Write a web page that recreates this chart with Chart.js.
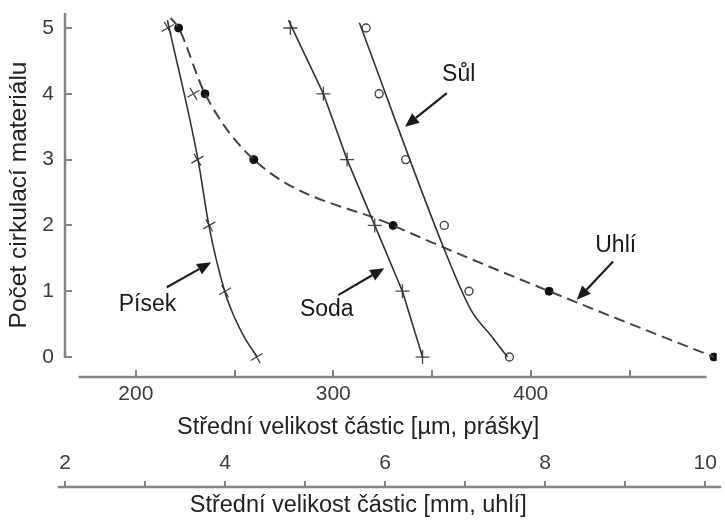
<!DOCTYPE html>
<html>
<head>
<meta charset="utf-8">
<script src="https://cdn.jsdelivr.net/npm/chart.js@4.4.1/dist/chart.umd.min.js"></script>
<style>
  html, body { margin: 0; padding: 0; background: #fff; }
</style>
</head>
<body>
<canvas id="myChart" width="725" height="520"></canvas>
<script>
// tick values
const yTicks = [0, 1, 2, 3, 4, 5];
const umTicks = [200, 250, 300, 350, 400, 450];
const mmTicks = [2, 3, 4, 5, 6, 7, 8, 9, 10];
const mmLabelTicks = [2, 4, 6, 8, 10];

// počet cirkulací for the measured points
const cycles = [5, 4, 3, 2, 1, 0];

// Písek [µm]
const pisekPoints = [216.2, 229.2, 231.2, 237.2, 245.2, 261.2];
const pisekCurveX = [216, 231.5, 237, 245, 250, 255, 261.5];
const pisekCurveY = [5.12, 3, 2, 1, 0.6, 0.3, 0];

// Soda [µm]
const sodaPoints = [278.3, 295, 307, 321, 335, 345.2];
const sodaCurveX = [277.3, 295, 307, 321, 335, 345.2];
const sodaCurveY = [5.12, 4, 3, 2, 1, 0];

// Sůl [µm]
const sulPoints = [316.6, 323.2, 336.7, 356.2, 368.7, 389.2];
const sulCurveX = [313.2, 356.7, 370, 380, 388.2];
const sulCurveY = [5.08, 1.6, 0.7, 0.32, 0];

// Uhlí [mm]
const uhliPoints = [3.42, 3.75, 4.36, 6.1, 8.05, 10.11];
const uhliCurveX = [3.32, 3.42, 3.75, 4.36, 6.1, 8.05, 10.11];
const uhliCurveY = [5.15, 5, 4, 3, 2, 1, 0];

// popisky se šipkami (µm / počet)
const noteTexts = ['Písek', 'Soda', 'Sůl', 'Uhlí'];
const noteX = [205.9, 296.7, 363.5, 443];
const noteY = [0.7, 0.62, 4.2, 1.6];
const arrowX1 = [215.7, 302.5, 357.5, 441.7];
const arrowY1 = [1.06, 0.94, 4.01, 1.45];
const arrowX2 = [238.2, 325.8, 336.3, 423.3];
const arrowY2 = [1.44, 1.35, 3.5, 0.87];

// axis line extents
const umLine = [171, 489];
const mmLine = [1.91, 10.2];

const axisColor = '#858585';
const tickColor = '#3c3c3c';
const titleColor = '#222';
const lineColor = '#333';
const titlePad = '          ';

Chart.defaults.font.family = "'Liberation Sans', Arial, sans-serif";

function xy(xs, ys) {
    return xs.map((x, i) => ({ x: x, y: ys[i] }));
}

function fitBox(w, h) {
    return function (scale) {
        if (w) scale.width = w;
        if (h) scale.height = h;
        scale.paddingLeft = 0;
        scale.paddingRight = 0;
        scale.paddingTop = 0;
        scale.paddingBottom = 0;
    };
}

function setTicks(values) {
    return function (scale) {
        scale.ticks = values.map(v => ({ value: v }));
    };
}

const axisLines = {
    id: 'axisLines',
    beforeDatasetsDraw(chart) {
        const ctx = chart.ctx;
        const s = chart.scales;
        ctx.save();
        ctx.strokeStyle = axisColor;
        ctx.lineWidth = 2.5;
        ctx.beginPath();
        ctx.moveTo(s.y.right, s.y.getPixelForValue(0) + 1);
        ctx.lineTo(s.y.right, chart.chartArea.top);
        ctx.moveTo(s.x.getPixelForValue(umLine[0]), s.x.top);
        ctx.lineTo(s.x.getPixelForValue(umLine[1]), s.x.top);
        ctx.moveTo(s.x3.getPixelForValue(mmLine[0]), s.x3.top);
        ctx.lineTo(s.x3.getPixelForValue(mmLine[1]), s.x3.top);
        ctx.stroke();
        ctx.restore();
    }
};

const notes = {
    id: 'notes',
    afterDatasetsDraw(chart) {
        const ctx = chart.ctx;
        const sx = chart.scales.x;
        const sy = chart.scales.y;
        ctx.save();
        ctx.fillStyle = '#1a1a1a';
        ctx.strokeStyle = '#1e1e1e';
        ctx.lineWidth = 2.2;
        ctx.font = "23px 'Liberation Sans', Arial, sans-serif";
        ctx.textAlign = 'center';
        ctx.textBaseline = 'alphabetic';
        noteTexts.forEach((t, i) => {
            ctx.fillText(t, sx.getPixelForValue(noteX[i]), sy.getPixelForValue(noteY[i]));
            const x1 = sx.getPixelForValue(arrowX1[i]), y1 = sy.getPixelForValue(arrowY1[i]);
            const x2 = sx.getPixelForValue(arrowX2[i]), y2 = sy.getPixelForValue(arrowY2[i]);
            const a = Math.atan2(y2 - y1, x2 - x1);
            const head = 14, half = 6;
            const bx = x2 - Math.cos(a) * head, by = y2 - Math.sin(a) * head;
            ctx.beginPath();
            ctx.moveTo(x1, y1);
            ctx.lineTo(bx, by);
            ctx.stroke();
            ctx.beginPath();
            ctx.moveTo(x2, y2);
            ctx.lineTo(bx + Math.sin(a) * half, by - Math.cos(a) * half);
            ctx.lineTo(bx - Math.sin(a) * half, by + Math.cos(a) * half);
            ctx.closePath();
            ctx.fill();
        });
        ctx.restore();
    }
};

const data = {
    datasets: [
        {
            data: xy(pisekCurveX, pisekCurveY), xAxisID: 'x',
            borderColor: lineColor, borderWidth: 1.6, pointRadius: 0,
            cubicInterpolationMode: 'monotone'
        },
        {
            data: xy(pisekPoints, cycles), xAxisID: 'x', showLine: false,
            pointStyle: 'cross', pointRadius: 7, pointRotation: -30,
            borderColor: '#444', borderWidth: 1.3
        },
        {
            data: xy(sodaCurveX, sodaCurveY), xAxisID: 'x',
            borderColor: lineColor, borderWidth: 1.6, pointRadius: 0
        },
        {
            data: xy(sodaPoints, cycles), xAxisID: 'x', showLine: false,
            pointStyle: 'cross', pointRadius: 7, pointRotation: 0,
            borderColor: '#444', borderWidth: 1.3
        },
        {
            data: xy(sulCurveX, sulCurveY), xAxisID: 'x',
            borderColor: lineColor, borderWidth: 1.6, pointRadius: 0,
            cubicInterpolationMode: 'monotone'
        },
        {
            data: xy(sulPoints, cycles), xAxisID: 'x', showLine: false,
            pointStyle: 'circle', pointRadius: 4,
            backgroundColor: '#fff', borderColor: '#444', borderWidth: 1.4
        },
        {
            data: xy(uhliCurveX, uhliCurveY), xAxisID: 'x3',
            borderColor: '#444', borderWidth: 2, borderDash: [11, 6], pointRadius: 0,
            cubicInterpolationMode: 'monotone'
        },
        {
            data: xy(uhliPoints, cycles), xAxisID: 'x3', showLine: false,
            pointStyle: 'circle', pointRadius: 4,
            backgroundColor: '#111', borderColor: '#111', borderWidth: 1
        }
    ]
};

const config = {
    type: 'line',
    data: data,
    options: {
        responsive: false,
        animation: false,
        layout: { padding: { top: 13, left: 0, right: 0, bottom: 0 } },
        plugins: { legend: { display: false }, tooltip: { enabled: false } },
        scales: {
            y: {
                type: 'linear', position: 'left', min: -0.302, max: 5.228,
                afterBuildTicks: setTicks(yTicks),
                afterFit: fitBox(65, 0),
                border: { display: false },
                grid: { drawOnChartArea: false, drawTicks: true, tickLength: -7, color: axisColor, lineWidth: 2 },
                ticks: { padding: 18, font: { size: 21 }, color: tickColor },
                title: {
                    display: true, text: 'Počet cirkulací materiálu',
                    font: { size: 24.5 }, color: titleColor, padding: { top: 5, bottom: 0 }
                }
            },
            x: {
                type: 'linear', position: 'bottom', weight: 0, min: 164.15, max: 494.15,
                afterBuildTicks: setTicks(umTicks),
                afterFit: fitBox(0, 65.1),
                border: { display: false },
                grid: { drawOnChartArea: false, drawTicks: true, tickLength: -7, color: axisColor, lineWidth: 2 },
                ticks: {
                    padding: 12, font: { size: 21 }, color: tickColor,
                    autoSkip: false, maxRotation: 0,
                    callback: (v) => (v % 100 === 0 ? v : '')
                },
                title: {
                    display: true, text: 'Střední velikost částic [µm, prášky]' + titlePad,
                    font: { size: 23.5 }, color: titleColor, padding: 0
                }
            },
            x2: {
                type: 'linear', position: 'bottom', weight: 1, min: 2, max: 10.144,
                afterBuildTicks: setTicks(mmLabelTicks),
                afterFit: fitBox(0, 44.9),
                border: { display: false },
                grid: { display: false, drawTicks: false },
                ticks: { padding: 8.6, font: { size: 21 }, color: tickColor, autoSkip: false, maxRotation: 0 }
            },
            x3: {
                type: 'linear', position: 'bottom', weight: 2, min: 2, max: 10.144,
                afterBuildTicks: setTicks(mmTicks),
                afterFit: fitBox(0, 33.1),
                border: { display: false },
                grid: { drawOnChartArea: false, drawTicks: true, tickLength: -6, color: axisColor, lineWidth: 2 },
                ticks: { display: false, autoSkip: false },
                title: {
                    display: true, text: 'Střední velikost částic [mm, uhlí]' + titlePad,
                    font: { size: 23.5 }, color: titleColor, padding: 0
                }
            }
        }
    },
    plugins: [axisLines, notes]
};

var myChart = new Chart(document.getElementById('myChart'), config);
</script>
</body>
</html>
